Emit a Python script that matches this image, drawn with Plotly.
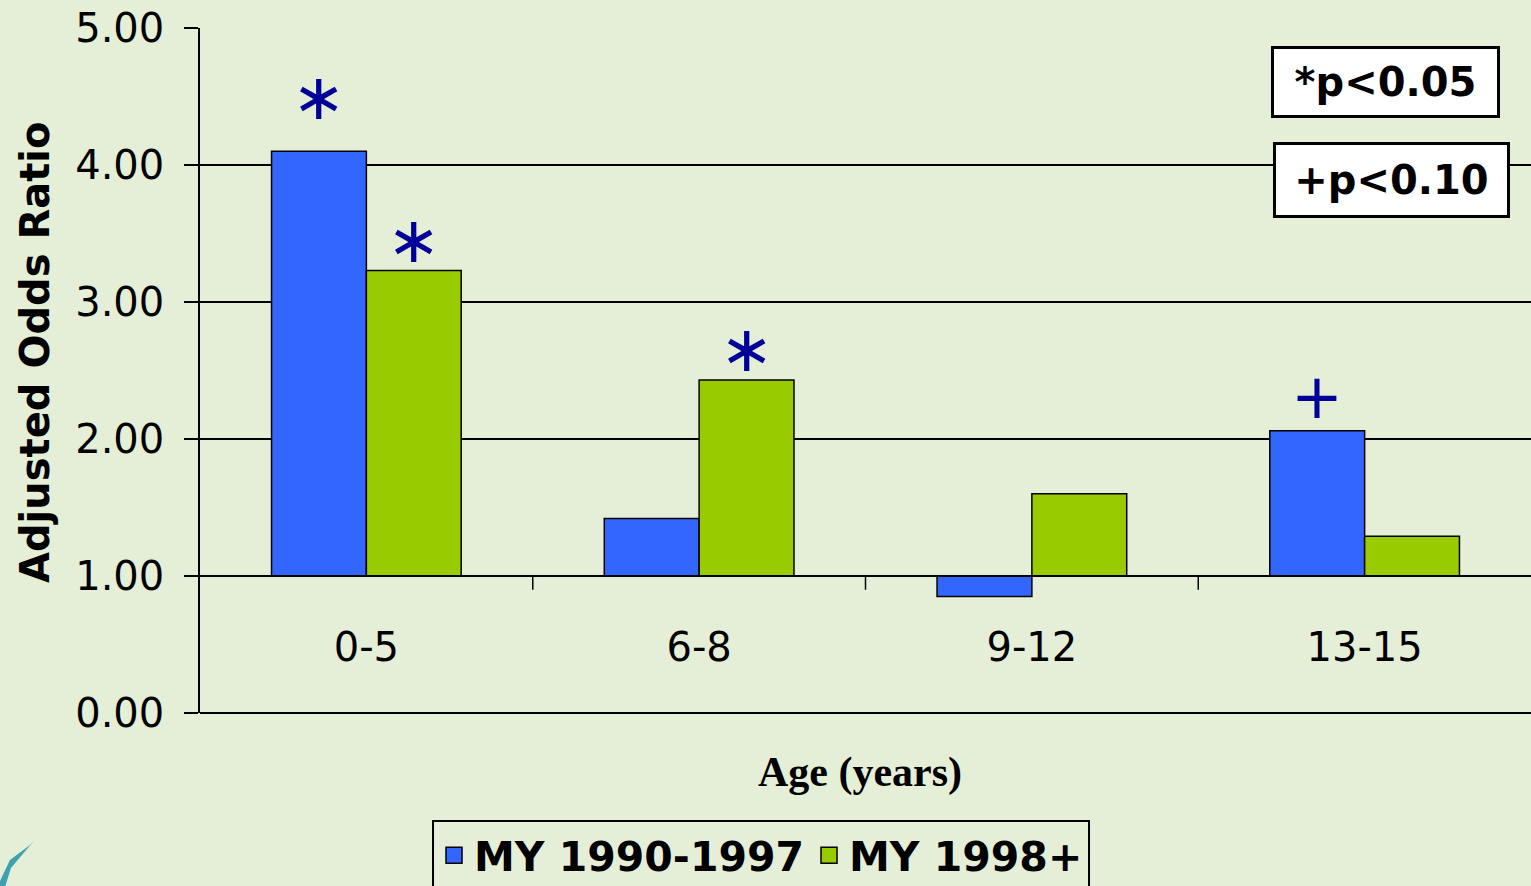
import plotly.graph_objects as go

# -----------------------------------
# DATA
# -----------------------------------

age_groups = ["0-5", "6-8", "9-12", "13-15"]
series_names = ["MY 1990-1997", "MY 1998+"]
odds_early = [4.10, 1.42, 0.85, 2.06]   # MY 1990-1997
odds_late = [3.23, 2.43, 1.60, 1.29]    # MY 1998+
reference_value = 1.0                   # bars start at OR = 1

# significance marks: (series index, age group index, mark)
sig_marks = [(0, 0, "∗"), (1, 0, "∗"), (1, 1, "∗"), (0, 3, "+")]
sig_lift = [0.40, 0.22, 0.23, 0.25]
legend_notes = ["*p<0.05", "+p<0.10"]

# -----------------------------------
# STYLE
# -----------------------------------

bg = "#E5EFD8"
colors = ["#3366FF", "#99CC00"]
mark_color = "#000099"
sans = "DejaVu Sans"
serif = "Liberation Serif"
bargap = 0.43

fig = go.Figure()
for name, vals, col in zip(series_names, [odds_early, odds_late], colors):
    fig.add_trace(go.Bar(
        x=list(range(len(age_groups))),
        y=[v - reference_value for v in vals],
        base=reference_value,
        name=name, showlegend=False,
        marker=dict(color=col, line=dict(color="black", width=1.5)),
    ))
    # legend proxy with a bigger square
    fig.add_trace(go.Scatter(
        x=[None], y=[None], mode="markers", name=name,
        marker=dict(symbol="square", size=16, color=col, line=dict(color="black", width=1.5)),
    ))

# star / plus marks above bars
half = (1 - bargap) / 4
for (s, i, mark), lift in zip(sig_marks, sig_lift):
    vals = [odds_early, odds_late][s]
    fig.add_annotation(
        x=i + (-half if s == 0 else half), y=vals[i] + lift,
        xref="x", yref="y", text=mark, showarrow=False,
        font=dict(family=sans, size=64 if mark != "+" else 62, color=mark_color),
        yanchor="middle",
    )

# p-value boxes
for note, (xp, yp, w, h) in zip(legend_notes, [(0.891, 0.921, 221, 64), (0.895, 0.778, 229, 68)]):
    fig.add_annotation(
        x=xp, y=yp, xref="paper", yref="paper", text="<b>" + note + "</b>",
        showarrow=False, xanchor="center", yanchor="middle",
        font=dict(family=sans, size=40, color="black"),
        bgcolor="white", bordercolor="black", borderwidth=3,
        width=w, height=h,
    )

# axis titles
fig.add_annotation(
    x=(35 - 200) / 1331, y=(713 - 352) / 685, xref="paper", yref="paper",
    text="<b>Adjusted Odds Ratio</b>", textangle=-90, showarrow=False,
    xanchor="center", yanchor="middle", font=dict(family=sans, size=40, color="black"),
)
fig.add_annotation(
    x=(860 - 200) / 1331, y=(713 - 772) / 685, xref="paper", yref="paper",
    text="<b>Age (years)</b>", showarrow=False,
    xanchor="center", yanchor="middle", font=dict(family=serif, size=42, color="black"),
)

# little teal logo corner
fig.add_shape(
    type="path", xref="paper", yref="paper",
    path="M -0.1503,-0.2453 L -0.1428,-0.2146 L -0.1277,-0.1927 L -0.1240,-0.1854 "
         "L -0.1300,-0.1985 L -0.1420,-0.2263 L -0.1465,-0.2540 L -0.1503,-0.2540 Z",
    fillcolor="#3FA0B0", line=dict(width=0),
)

fig.update_layout(
    width=1531, height=886,
    paper_bgcolor=bg, plot_bgcolor=bg,
    margin=dict(l=200, r=0, t=28, b=173),
    barmode="group", bargap=bargap, bargroupgap=0,
    font=dict(family=sans, color="black"),
    showlegend=True,
    legend=dict(
        orientation="h", xref="container", yref="container",
        x=761 / 1531, xanchor="center", y=(886 - 820) / 886, yanchor="top",
        font=dict(family=sans, size=41, color="black", weight="bold"),
        bordercolor="black", borderwidth=2, bgcolor="rgba(0,0,0,0)",
        itemsizing="trace", traceorder="normal",
    ),
    xaxis=dict(
        tickmode="array", tickvals=list(range(len(age_groups))), ticktext=age_groups,
        range=[-0.5, len(age_groups) - 0.5],
        anchor="free", position=reference_value / 5,
        showline=True, linecolor="black", linewidth=1.5,
        showgrid=False, zeroline=False,
        ticks="", tickfont=dict(family=sans, size=40),
        ticklabelstandoff=36,
    ),
    yaxis=dict(
        range=[0, 5], tickvals=[0, 1, 2, 3, 4, 5], tickformat=".2f",
        showgrid=True, gridcolor="black", gridwidth=1.5,
        showline=True, linecolor="black", linewidth=1.5,
        ticks="outside", ticklen=14, tickcolor="black", tickwidth=1.5,
        tickfont=dict(family=sans, size=40), ticklabelstandoff=12,
        zeroline=True, zerolinecolor="black", zerolinewidth=1.5,
    ),
)

# tick marks between age groups on the OR = 1 line
for b in range(1, len(age_groups)):
    fig.add_shape(type="line", xref="x", yref="y", x0=b - 0.5, x1=b - 0.5,
                  y0=reference_value, y1=reference_value - 0.1,
                  line=dict(color="black", width=1.5))

fig.write_html("out.html", config={"displayModeBar": False},
               post_script="document.body.style.margin='0';")
